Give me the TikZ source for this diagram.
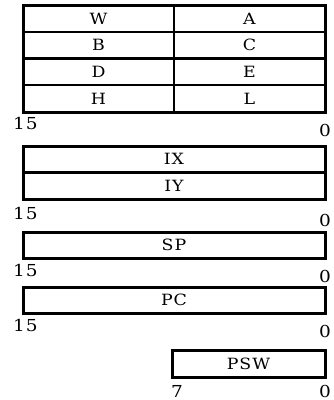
\documentclass[tikz,border=0pt]{standalone}
\usepackage{fontspec}
\newfontfamily\regfont[FakeStretch=1.12,LetterSpace=6]{DejaVu Serif}
\begin{document}
\begin{tikzpicture}[x=1pt,y=-1pt,
  cell/.style={draw, line width=2.3pt, inner sep=0pt, outer sep=0pt, anchor=north west,
    minimum height=27pt, font=\regfont\fontsize{15.5}{17}\selectfont},
  wide/.style={cell, minimum width=302pt},
  half/.style={cell, minimum width=151pt},
  frame/.style={line width=3pt, line join=miter},
  bit/.style={inner sep=0pt, font=\regfont\fontsize{16.5}{18}\selectfont}]
\useasboundingbox (0,0) rectangle (333,400);
% general registers
\node[half, minimum height=26.75pt] (W) at (23,5) {W};
\node[half, minimum height=26.75pt] (A) at (174,5) {A};
\node[half, minimum height=26.75pt] (B) at (23,31.75) {B};
\node[half, minimum height=26.75pt] (C) at (174,31.75) {C};
\node[half, minimum height=26.75pt] (D) at (23,58.5) {D};
\node[half, minimum height=26.75pt] (E) at (174,58.5) {E};
\node[half, minimum height=26.75pt] (H) at (23,85.25) {H};
\node[half, minimum height=26.75pt] (L) at (174,85.25) {L};
\draw[frame] (W.north west) rectangle (L.south east);
\node[bit, anchor=west] (g15) at (13,123.5) {15};
\node[bit] (g0) at (325,130) {0};
% index registers
\node[wide, minimum height=26.5pt] (IX) at (23,146) {IX};
\node[wide, minimum height=26.5pt] (IY) at (23,172.5) {IY};
\draw[frame] (IX.north west) rectangle (IY.south east);
\node[bit, anchor=west] (i15) at (13,213) {15};
\node[bit] (i0) at (325,220.5) {0};
% SP
\node[wide, minimum height=26pt] (SP) at (23,232) {SP};
\draw[frame] (SP.north west) rectangle (SP.south east);
\node[bit, anchor=west] (s15) at (13,270) {15};
\node[bit] (s0) at (325,276) {0};
% PC
\node[wide, minimum height=26pt] (PC) at (23,287) {PC};
\draw[frame] (PC.north west) rectangle (PC.south east);
\node[bit, anchor=west] (p15) at (13,325.5) {15};
\node[bit] (p0) at (325,331) {0};
% PSW
\node[cell, minimum width=153pt, minimum height=27pt] (PSW) at (172,350.5) {PSW};
\draw[frame] (PSW.north west) rectangle (PSW.south east);
\node[bit] (w7) at (177,391) {7};
\node[bit] (w0) at (325,391.5) {0};
\end{tikzpicture}
\end{document}
